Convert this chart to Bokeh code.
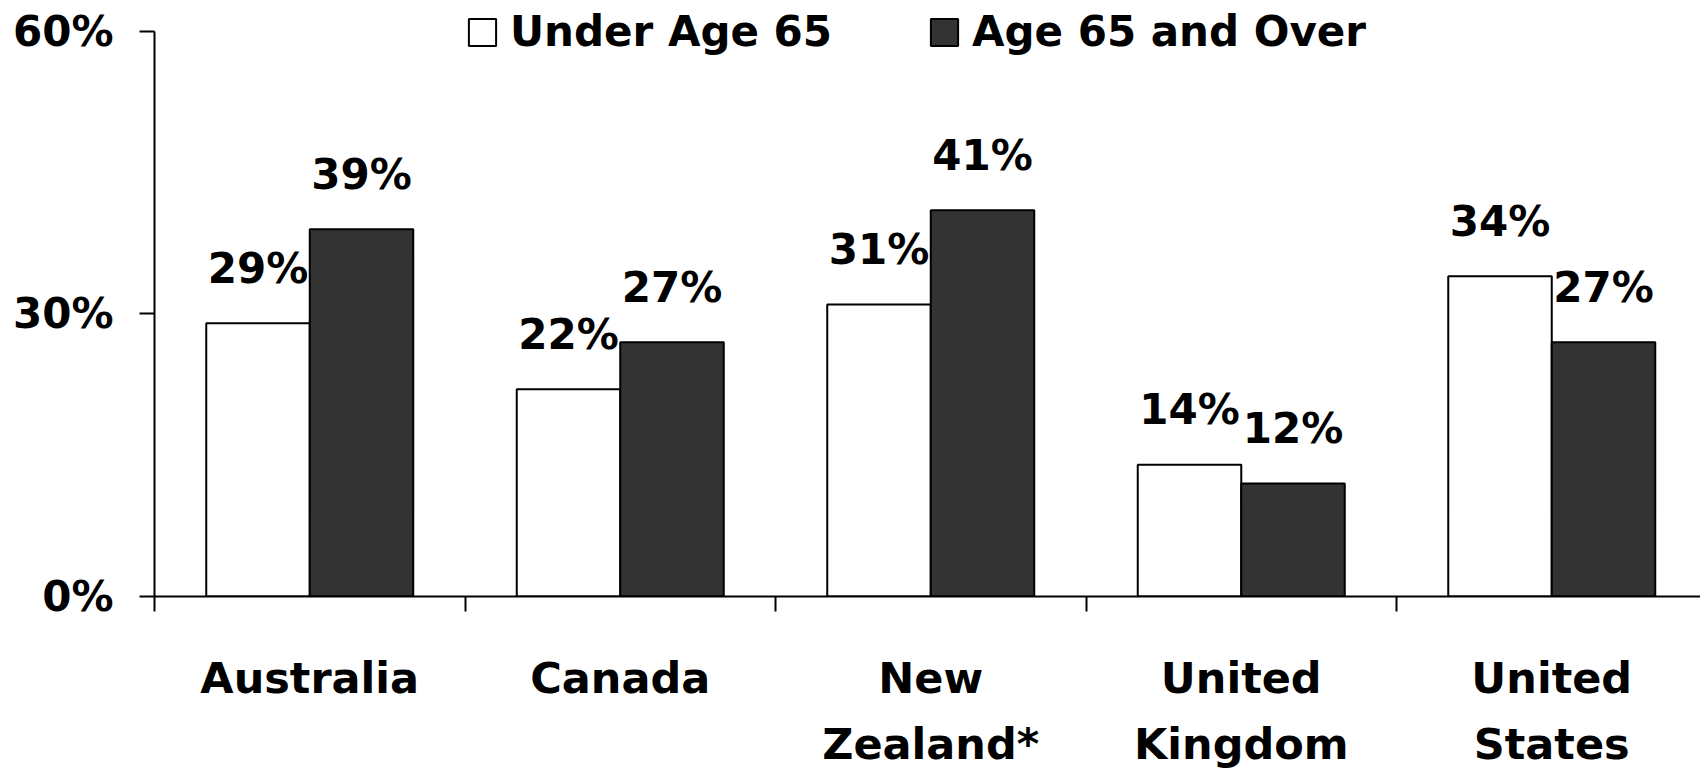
from bokeh.plotting import figure
from bokeh.models import (FixedTicker, Legend, LegendItem, PrintfTickFormatter,
                          ColumnDataSource, Range1d)
from bokeh.core.properties import value
from bokeh.embed import file_html
from bokeh.resources import INLINE

# ---- data ----
countries = ["Australia", "Canada", "New\nZealand*", "United\nKingdom", "United\nStates"]
under65 = [29, 22, 31, 14, 34]
over65 = [39, 27, 41, 12, 27]
series_names = ["Under Age 65", "Age 65 and Over"]
y_ticks = [0, 30, 60]

FONT = "DejaVu Sans"
W, H = 1700, 772
BAR_W = 1 / 3
LEFT = 154
CAT_PX = 310.5
TOP_PX, BOTTOM_PX = 31, 598          # pixel rows of 60% and 0%
Y_MAX = 60
Y_END = Y_MAX + TOP_PX * Y_MAX / (BOTTOM_PX - TOP_PX)

idx = list(range(len(countries)))
x_under = [i + 0.5 - BAR_W / 2 for i in idx]
x_over = [i + 0.5 + BAR_W / 2 for i in idx]

src_u = ColumnDataSource(dict(x=x_under, top=under65, lbl=[f"{v}%" for v in under65]))
src_o = ColumnDataSource(dict(x=x_over, top=over65, lbl=[f"{v}%" for v in over65]))

p = figure(width=W, height=H, output_backend="svg", toolbar_location=None,
           x_range=Range1d(0, (W - LEFT) / CAT_PX), y_range=Range1d(0, Y_END),
           min_border_left=LEFT, min_border_right=0, min_border_top=0,
           min_border_bottom=H - BOTTOM_PX)
p.outline_line_color = None
p.grid.visible = False
p.background_fill_color = "white"
p.border_fill_color = "white"

r1 = p.vbar(x="x", top="top", width=BAR_W, source=src_u, fill_color="white",
            line_color="black", line_width=2)
r2 = p.vbar(x="x", top="top", width=BAR_W, source=src_o, fill_color="#333333",
            line_color="black", line_width=2)

for src in (src_u, src_o):
    p.text(x="x", y="top", text="lbl", source=src, text_align="center",
           text_baseline="alphabetic", y_offset=-55, text_font=value(FONT),
           text_font_style="bold", text_font_size="42px", text_color="black")

# x axis: ticks at group boundaries, labels at centres
xa = p.xaxis[0]
xa.ticker = FixedTicker(ticks=[i + 0.5 for i in idx], minor_ticks=list(range(len(countries) + 1)))
xa.major_label_overrides = {i + 0.5: c for i, c in zip(idx, countries)}
xa.major_tick_out = 0
xa.major_tick_in = 0
xa.minor_tick_out = 15
xa.minor_tick_in = 0
xa.minor_tick_line_width = 2
xa.axis_line_width = 2
xa.major_label_standoff = 41
xa.major_label_text_font = FONT
xa.major_label_text_font_style = "bold"
xa.major_label_text_font_size = "43px"
xa.major_label_text_color = "black"
xa.major_label_text_line_height = 1.33

ya = p.yaxis[0]
ya.ticker = FixedTicker(ticks=y_ticks)
ya.bounds = (0, Y_MAX)
ya.formatter = PrintfTickFormatter(format="%d%%")
ya.major_tick_out = 15
ya.major_tick_in = 0
ya.minor_tick_line_color = None
ya.major_tick_line_width = 2
ya.axis_line_width = 2
ya.major_label_standoff = 26
ya.major_label_text_font = FONT
ya.major_label_text_font_style = "bold"
ya.major_label_text_font_size = "42px"
ya.major_label_text_color = "black"

legend = Legend(items=[LegendItem(label=series_names[0], renderers=[r1]),
                       LegendItem(label=series_names[1], renderers=[r2])],
                orientation="horizontal", location=(311, 540),
                glyph_width=34, glyph_height=34, label_standoff=11, spacing=95,
                padding=0, margin=0, border_line_alpha=0, background_fill_alpha=0,
                label_text_font=FONT, label_text_font_style="bold",
                label_text_font_size="42px", label_text_color="black")
p.add_layout(legend)

open("out.html", "w").write(file_html(p, INLINE))
